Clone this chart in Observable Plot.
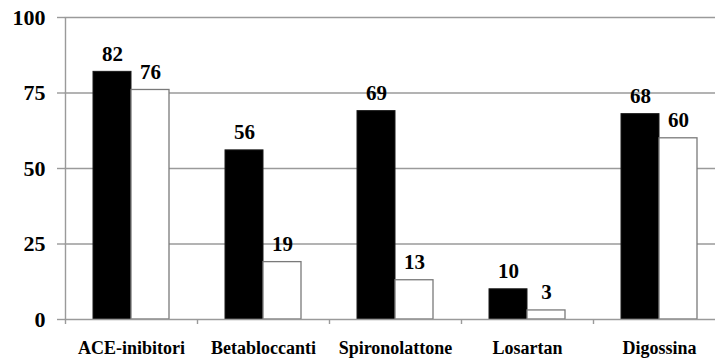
<!DOCTYPE html>
<html>
<head>
<meta charset="utf-8">
<script src="https://cdn.jsdelivr.net/npm/d3@7"></script>
<script src="https://cdn.jsdelivr.net/npm/@observablehq/plot@0.6"></script>
<style>
  html, body { margin: 0; padding: 0; background: #fff; }
  #chart { width: 715px; height: 358px; overflow: hidden; }
</style>
</head>
<body>
<div id="chart"></div>
<script>
// Categorie (farmaci) e valori percentuali delle due serie
const farmaci = ["ACE-inibitori", "Betabloccanti", "Spironolattone", "Losartan", "Digossina"];
const serieNera = [82, 56, 69, 10, 68];
const serieBianca = [76, 19, 13, 3, 60];
const yTicks = [0, 25, 50, 75, 100];

const righeNere = farmaci.map((f, i) => ({farmaco: f, valore: serieNera[i]}));
const righeBianche = farmaci.map((f, i) => ({farmaco: f, valore: serieBianca[i]}));

const font = "'Times New Roman', 'Liberation Serif', 'DejaVu Serif', serif";
const grigio = "#9a9a9a";

const chart = Plot.plot({
  width: 715,
  height: 358,
  marginLeft: 64,
  marginRight: -10,
  marginTop: 17,
  marginBottom: 39,
  style: {fontFamily: font, fontWeight: "bold", background: "#fff", color: "#000"},
  x: {domain: farmaci, padding: 0, label: null},
  y: {domain: [0, 100], label: null},
  marks: [
    // griglia orizzontale
    Plot.ruleY(yTicks.filter(t => t > 0), {stroke: grigio, strokeWidth: 1.4}),
    // barre
    Plot.barY(righeNere, {x: "farmaco", y: "valore", fill: "#000", stroke: "#1a1a1a", insetLeft: 28, insetRight: 66}),
    Plot.barY(righeBianche, {x: "farmaco", y: "valore", fill: "#fff", stroke: "#7a7a7a", strokeWidth: 1.3, insetLeft: 66, insetRight: 28}),
    // asse orizzontale e verticale
    Plot.ruleY([0], {stroke: grigio, strokeWidth: 1.4}),
    Plot.ruleX([farmaci[0]], {stroke: grigio, strokeWidth: 1.4, dx: -66}),
    // tacche ai confini delle categorie
    Plot.ruleX(farmaci, {x: d => d, y1: 0, y2: 0, insetBottom: -5, dx: -66, stroke: grigio, strokeWidth: 1.4}),
    Plot.axisY({ticks: yTicks, tickSize: 7, tickPadding: 12, stroke: grigio, strokeWidth: 1.4, fill: "#000", fontSize: 22, fontFamily: font, fontWeight: "bold", label: null}),
    Plot.axisX({tickSize: 0, tickPadding: 22, fill: "#000", fontSize: 18, fontFamily: font, fontWeight: "bold", label: null}),
    // etichette dei valori
    Plot.text(righeNere, {x: "farmaco", y: "valore", text: d => String(d.valore), dx: -19, dy: -11, lineAnchor: "bottom", fontSize: 21, fontFamily: font, fontWeight: "bold", fill: "#000"}),
    Plot.text(righeBianche, {x: "farmaco", y: "valore", text: d => String(d.valore), dx: 19, dy: -11, lineAnchor: "bottom", fontSize: 21, fontFamily: font, fontWeight: "bold", fill: "#000"})
  ]
});

document.getElementById("chart").appendChild(chart);
</script>
</body>
</html>
